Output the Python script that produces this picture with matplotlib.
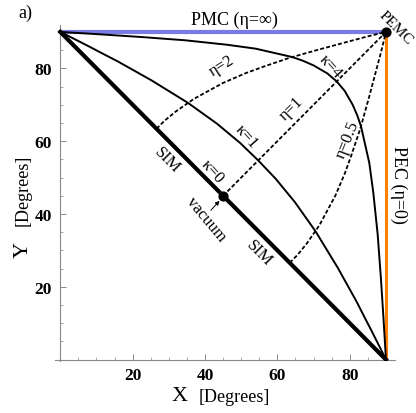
import matplotlib
matplotlib.use("Agg")
import matplotlib.pyplot as plt
from matplotlib.ticker import MultipleLocator

plt.rcParams['font.family'] = ['Liberation Serif', 'DejaVu Serif']

# --- data (degrees) ---
diag_x = [0, 90]          # kappa = 0, SIM line
diag_y = [90, 0]

k1_x = [0, 4.0, 8.05, 11.4, 15.8, 25.2, 35.3, 43.3, 49.7, 54.7, 59.5, 64.8, 70.5, 76.7, 81.95, 84.2, 85.95, 88.0, 90]
k1_y = [90, 88.0, 85.95, 84.2, 81.95, 76.7, 70.5, 64.8, 59.5, 54.7, 49.7, 43.3, 35.3, 25.2, 15.8, 11.4, 8.05, 4.0, 0]

k4_x = [0, 5.9, 11.65, 22.4, 34.5, 45.9, 54.0, 64.1, 67.0, 70.0, 73.8, 76.4, 78.6, 80.8, 82.1, 83.1, 85.4, 86.5, 87.7, 88.6, 89.3, 89.65, 90]
k4_y = [90, 89.65, 89.3, 88.6, 87.7, 86.5, 85.4, 83.1, 82.1, 80.8, 78.6, 76.4, 73.8, 70.0, 67.0, 64.1, 54.0, 45.9, 34.5, 22.4, 11.65, 5.9, 0]

eta2_x = [26.6, 28.8, 32.0, 36.9, 45.0, 51.3, 56.3, 63.4, 71.6, 78.7, 84.3, 87.1, 90]
eta2_y = [63.4, 65.6, 68.2, 71.6, 76.0, 78.7, 80.5, 82.9, 85.2, 87.1, 88.6, 89.3, 90]

eta05_x = [63.4, 65.6, 68.2, 71.6, 76.0, 78.7, 80.5, 82.9, 85.2, 87.1, 88.6, 89.3, 90]
eta05_y = [26.6, 28.8, 32.0, 36.9, 45.0, 51.3, 56.3, 63.4, 71.6, 78.7, 84.3, 87.1, 90]

eta1_x = [45, 90]
eta1_y = [45, 90]

pmc_x = [0, 90]
pmc_y = [90, 90]
pec_x = [90, 90]
pec_y = [0, 90]

dots_x = [45, 90]         # vacuum, PEMC
dots_y = [45, 90]

W, H = 416, 414
fig = plt.figure(figsize=(W / 100, H / 100), dpi=100)
ax = fig.add_axes([54.5 / W, 52.3 / H, (395 - 54.5) / W, (361.7 - 26) / H])
ax.set_xlim(-1.6, 92.5)
ax.set_ylim(-0.3, 91.9)

# Mathematica-like axes through the origin
for s in ['top', 'right']:
    ax.spines[s].set_visible(False)
ax.spines['left'].set_position(('data', 0))
ax.spines['bottom'].set_position(('data', 0))
for s in ['left', 'bottom']:
    ax.spines[s].set_color('#888888')
    ax.spines[s].set_linewidth(0.8)
ax.xaxis.set_minor_locator(MultipleLocator(5))
ax.yaxis.set_minor_locator(MultipleLocator(5))
ax.set_xticks([20, 40, 60, 80])
ax.set_yticks([20, 40, 60, 80])
ax.tick_params(which='major', direction='in', length=4, width=0.7, color='#888888',
               labelsize=12.5, pad=5)
ax.tick_params(which='minor', direction='in', length=2.5, width=0.6, color='#999999')
ax.tick_params(axis='y', which='major', pad=6)
for lbl in ax.get_xticklabels() + ax.get_yticklabels():
    lbl.set_fontweight('bold')

# boundary lines
ax.plot(pmc_x, pmc_y, color='#7b7be6', lw=3.0, solid_capstyle='butt', zorder=2)
ax.plot(pec_x, pec_y, color='#ff8000', lw=2.2, solid_capstyle='butt', zorder=2)

# kappa curves
ax.plot(diag_x, diag_y, color='black', lw=3.0, zorder=3)
ax.plot(k1_x, k1_y, color='black', lw=1.4, zorder=3)
ax.plot(k4_x, k4_y, color='black', lw=1.4, zorder=3)

# eta curves
for xs, ys in [(eta2_x, eta2_y), (eta1_x, eta1_y), (eta05_x, eta05_y)]:
    ax.plot(xs, ys, color='black', lw=1.3, dashes=(2.2, 1.2), zorder=3)

ax.scatter(dots_x, dots_y, s=40, color='black', zorder=5, clip_on=False)

# labels on curves
fs = 12
ax.text(44.5, 80.8, 'η=2', rotation=32, fontsize=fs, ha='center', va='center')
ax.text(74.6, 80.5, 'κ=4', rotation=-48, fontsize=fs, ha='center', va='center')
ax.text(63.8, 69.0, 'η=1', rotation=45, fontsize=fs, ha='center', va='center')
ax.text(51.4, 61.3, 'κ=1', rotation=-48, fontsize=fs, ha='center', va='center')
ax.text(79.3, 60.5, 'η=0.5', rotation=68, fontsize=fs, ha='center', va='center')
ax.text(42.1, 51.7, 'κ=0', rotation=-48, fontsize=fs, ha='center', va='center')
ax.text(29.4, 55.0, 'SIM', rotation=-45, fontsize=fs, ha='center', va='center')
ax.text(55.0, 29.5, 'SIM', rotation=-45, fontsize=fs, ha='center', va='center')
ax.text(40.4, 38.8, 'vacuum', rotation=-50, fontsize=fs, ha='center', va='center')
ax.annotate('', xy=(44.0, 43.6), xytext=(41.6, 41.0),
            arrowprops=dict(arrowstyle='-|>', color='black', lw=0.7,
                            mutation_scale=6, shrinkA=0, shrinkB=0))
ax.text(48.1, 93.4, 'PMC (η=∞)', fontsize=13, ha='center', va='center', clip_on=False)
ax.text(92.7, 91.2, 'PEMC', rotation=-45, fontsize=11, ha='center', va='center', clip_on=False)
ax.text(93.6, 48.2, 'PEC (η=0)', rotation=-90, fontsize=13, ha='center', va='center', clip_on=False)

# axis titles and panel letter
fig.text(180 / W, 1 - 397 / H, 'X', fontsize=16, ha='center', va='center')
fig.text(234 / W, 1 - 398 / H, '[Degrees]', fontsize=13, ha='center', va='center')
fig.text(23 / W, 1 - 250 / H, 'Y', fontsize=16, rotation=90, ha='center', va='center')
fig.text(23 / W, 1 - 190 / H, '[Degrees]', fontsize=13, rotation=90, ha='center', va='center')
fig.text(25 / W, 1 - 13 / H, 'a)', fontsize=13, ha='center', va='center')

fig.savefig('out.png', dpi=100)
